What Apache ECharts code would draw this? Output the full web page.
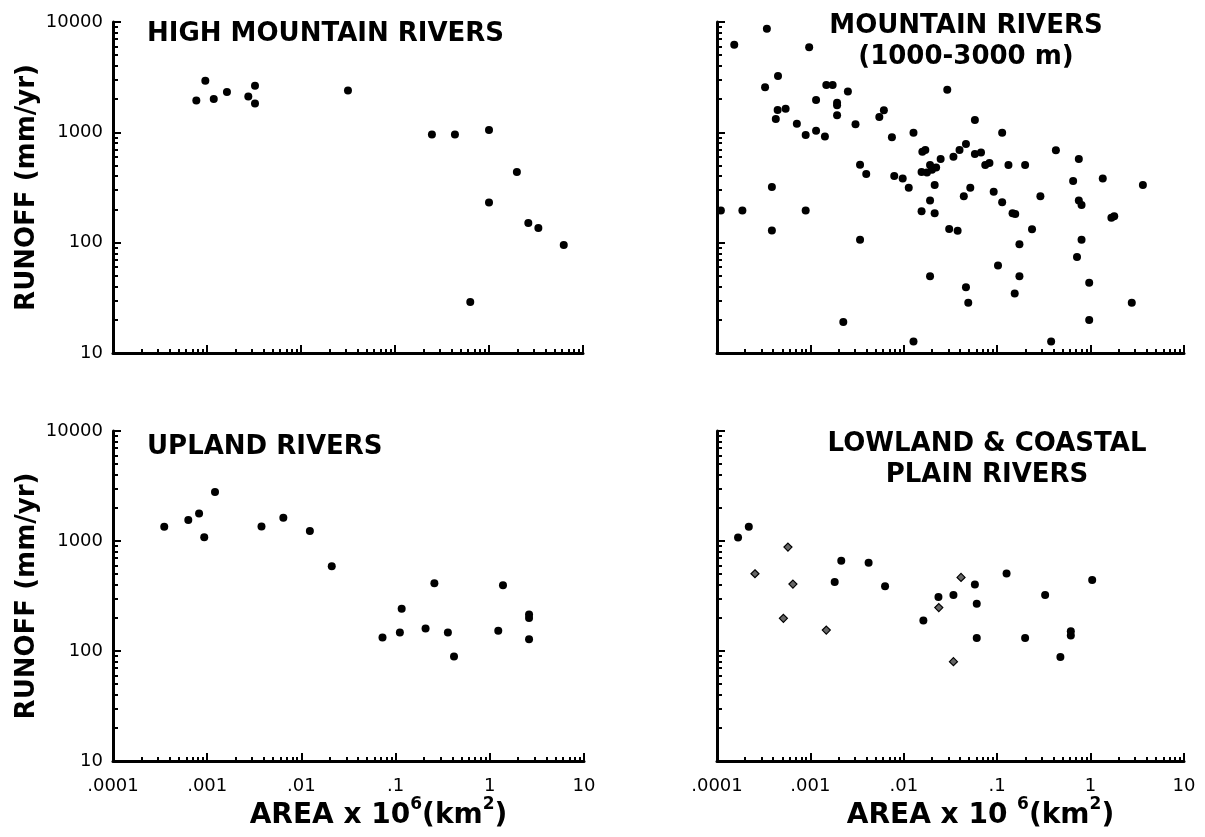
<!DOCTYPE html>
<html><head><meta charset="utf-8">
<script src="https://cdn.jsdelivr.net/npm/echarts@6/dist/echarts.min.js"></script>
<style>html,body{margin:0;padding:0;background:#fff}#c{width:1205px;height:837px}</style>
</head><body><div id="c"></div>
<script>
// ---- tick labels ----
const xTickLabels = ['.0001', '.001', '.01', '.1', '1', '10'];
const yTickLabels = ['10', '100', '1000', '10000'];
const minorSteps = [2, 3, 4, 5, 6, 7, 8, 9];
const xDecades = [-4, -3, -2, -1, 0];
const yDecades = [1, 2, 3];

// ---- panel titles ----
const titles = ['HIGH MOUNTAIN RIVERS', 'MOUNTAIN RIVERS\n(1000-3000 m)', 'UPLAND RIVERS', 'LOWLAND & COASTAL\nPLAIN RIVERS'];

// ---- data: area (x 10^6 km2) and runoff (mm/yr) ----
const highArea   = [0.00077, 0.00096, 0.00118, 0.00163, 0.00275, 0.00324, 0.00324, 0.0316, 0.247, 0.434, 1.0, 1.98, 1.0, 2.62, 3.35, 6.24, 0.632];
const highRunoff = [1940, 2930, 2010, 2320, 2110, 2650, 1830, 2400, 955, 955, 1050, 437, 231, 151, 136, 95, 29];

const mountArea = [0.000153, 0.000342, 0.00097, 0.00045, 0.000327, 0.00148, 0.00173, 0.00115, 0.00252, 0.00193,
  0.00193, 0.0292, 0.000446, 0.000543, 0.000426, 0.00193, 0.00612, 0.00547, 0.000716, 0.00304,
  0.0577, 0.00089, 0.00115, 0.00143, 0.0127, 0.113, 0.00746, 0.0463, 0.0395, 0.0158,
  0.0170, 0.425, 0.0577, 0.0671, 0.034, 0.0248, 0.748, 0.0826, 0.0745, 0.132,
  0.199, 0.0034, 0.0191, 0.0222, 0.0200, 0.0155, 0.0177, 0.00396, 0.0079, 0.00973,
  0.65, 1.35, 3.63, 0.000387, 0.0113, 0.0214, 0.0515, 0.0917, 0.0439, 0.29,
  0.0191, 0.113, 0.748, 0.80, 0.00011, 0.000187, 0.00089, 0.0155, 0.0214, 0.146,
  0.156, 1.79, 1.67, 0.000387, 0.0306, 0.0377, 0.236, 0.0034, 0.80, 0.173,
  0.715, 0.102, 0.0191, 0.173, 0.966, 0.0463, 0.154, 0.049, 2.76, 0.00225,
  0.966, 0.0127, 0.378];
const mountRunoff = [6210, 8690, 5910, 3236, 2566, 2679, 2679, 1967, 2344, 1858,
  1758, 2427, 1593, 1637, 1318, 1425, 1582, 1374, 1195, 1186,
  1291, 948, 1031, 916, 989, 989, 903, 785, 692, 668,
  692, 687, 636, 658, 601, 573, 573, 526, 505, 505,
  505, 508, 505, 480, 457, 438, 432, 420, 403, 381,
  363, 381, 333, 320, 315, 333, 315, 290, 264, 264,
  241, 232, 241, 220, 196, 196, 196, 193, 185, 185,
  182, 174, 168, 129, 133, 128, 132, 106, 106, 97,
  74, 62, 49.5, 49.5, 43.3, 39.5, 34.6, 28.6, 28.6, 19.1,
  19.9, 12.7, 12.7];

const uplandArea   = [0.00035, 0.00063, 0.00082, 0.00093, 0.00121, 0.00377, 0.00643, 0.0123, 0.021, 0.0726, 0.111, 0.116, 0.208, 0.258, 0.359, 0.417, 1.23, 1.38, 2.61, 2.61, 2.61];
const uplandRunoff = [1346, 1549, 1782, 1083, 2792, 1355, 1626, 1230, 589, 133, 147, 242, 160, 414, 147, 89, 153, 397, 215, 200, 128];

const lowArea   = [0.000168, 0.000219, 0.00214, 0.0042, 0.00182, 0.0063, 0.0235, 0.034, 0.0577, 0.0604, 0.0162, 0.0604, 0.126, 0.326, 0.199, 1.04, 0.614, 0.614, 0.475];
const lowRunoff = [1077, 1346, 661, 634, 423, 387, 310, 323, 403, 269, 189, 131, 507, 323, 131, 442, 151, 138, 88];
const lowOtherArea   = [0.000575, 0.000255, 0.00065, 0.000514, 0.00148, 0.041, 0.0237, 0.034];
const lowOtherRunoff = [880, 504, 406, 198, 155, 467, 248, 80];

// ---- build ----
const FONT = 'DejaVu Sans';
const pairs = (xs, ys) => xs.map((x, i) => [x, ys[i]]);
const minorX = [], minorY = [];
xDecades.forEach(d => minorSteps.forEach(m => minorX.push(d + Math.log10(m))));
yDecades.forEach(d => minorSteps.forEach(m => minorY.push(d + Math.log10(m))));

const grids = [
  {left: 113, top: 22, width: 470, height: 331},
  {left: 717, top: 22, width: 467, height: 331},
  {left: 113, top: 431, width: 471, height: 330},
  {left: 717, top: 431, width: 467, height: 330}
];
const lineStyle = {color: '#000', width: 3};
const areaName = (sp) => '{a|AREA x 10' + sp + '}{s|6}{a|(km}{s|2}{a|)}';
const areaRich = {
  a: {fontSize: 28, fontWeight: 'bold', fontFamily: FONT, color: '#000'},
  s: {fontSize: 17, fontWeight: 'bold', fontFamily: FONT, color: '#000', verticalAlign: 'top', padding: [0, 0, 22, 0]}
};

const xAxis = [], yAxis = [];
grids.forEach((g, i) => {
  const bottom = i >= 2, left = i % 2 === 0;
  xAxis.push({
    type: 'log', logBase: 10, min: 0.0001, max: 10, gridIndex: i, position: 'bottom',
    axisLine: {show: true, onZero: false, lineStyle},
    axisTick: {show: true, inside: true, length: 8, lineStyle: {color: '#000', width: 2}},
    axisLabel: {show: bottom, margin: 16, fontSize: 18, fontFamily: FONT, color: '#000',
      formatter: v => xTickLabels[Math.round(Math.log10(v)) + 4]},
    splitLine: {show: false}, minorTick: {show: false},
    name: bottom ? areaName(left ? '' : ' ') : '', nameLocation: 'middle', nameGap: 33,
    nameTextStyle: {rich: areaRich, padding: [0, 0, 0, 60]}
  });
  xAxis.push({
    type: 'value', min: -4, max: 1, gridIndex: i, position: 'bottom',
    axisLine: {show: false, onZero: false}, axisLabel: {show: false}, splitLine: {show: false},
    axisTick: {show: true, inside: true, length: 4, customValues: minorX, lineStyle: {color: '#000', width: 2}}
  });
  yAxis.push({
    type: 'log', logBase: 10, min: 10, max: 10000, gridIndex: i, position: 'left',
    axisLine: {show: true, onZero: false, lineStyle},
    axisTick: {show: true, inside: true, length: 8, lineStyle: {color: '#000', width: 2}},
    axisLabel: {show: left, margin: 10, fontSize: 18, fontFamily: FONT, color: '#000',
      formatter: v => yTickLabels[Math.round(Math.log10(v)) - 1]},
    splitLine: {show: false}, minorTick: {show: false},
    name: left ? 'RUNOFF (mm/yr)' : '', nameLocation: 'middle', nameGap: 73, nameRotate: 90,
    nameTextStyle: {fontSize: 26, fontWeight: 'bold', fontFamily: FONT, color: '#000'}
  });
  yAxis.push({
    type: 'value', min: 1, max: 4, gridIndex: i, position: 'left',
    axisLine: {show: false, onZero: false}, axisLabel: {show: false}, splitLine: {show: false},
    axisTick: {show: true, inside: true, length: 5, customValues: minorY, lineStyle: {color: '#000', width: 2}}
  });
});

const dot = (i, data) => ({
  type: 'scatter', xAxisIndex: i * 2, yAxisIndex: i * 2, data,
  symbol: 'circle', symbolSize: 8, itemStyle: {color: '#000', opacity: 1}, silent: true
});

const series = [
  dot(0, pairs(highArea, highRunoff)),
  dot(1, pairs(mountArea, mountRunoff)),
  dot(2, pairs(uplandArea, uplandRunoff)),
  dot(3, pairs(lowArea, lowRunoff)),
  {type: 'scatter', xAxisIndex: 6, yAxisIndex: 6, data: pairs(lowOtherArea, lowOtherRunoff),
   symbol: 'diamond', symbolSize: 8, itemStyle: {color: '#666', borderColor: '#000', borderWidth: 1.2, opacity: 1}, silent: true}
];

const titleFont = 'bold 26px "DejaVu Sans"';
const graphic = [
  {type: 'text', x: 147, y: 34, style: {text: titles[0], font: titleFont, fill: '#000', textAlign: 'left', textVerticalAlign: 'middle'}},
  {type: 'text', x: 966, y: 42, style: {text: titles[1], font: titleFont, fill: '#000', textAlign: 'center', textVerticalAlign: 'middle', lineHeight: 31}},
  {type: 'text', x: 147, y: 447, style: {text: titles[2], font: titleFont, fill: '#000', textAlign: 'left', textVerticalAlign: 'middle'}},
  {type: 'text', x: 987, y: 460, style: {text: titles[3], font: titleFont, fill: '#000', textAlign: 'center', textVerticalAlign: 'middle', lineHeight: 31}}
];

const chart = echarts.init(document.getElementById('c'));
chart.setOption({
  animation: false,
  backgroundColor: '#fff',
  grid: grids.map(g => Object.assign({containLabel: false, outerBoundsMode: 'none'}, g)),
  xAxis, yAxis, series, graphic
});
</script></body></html>
